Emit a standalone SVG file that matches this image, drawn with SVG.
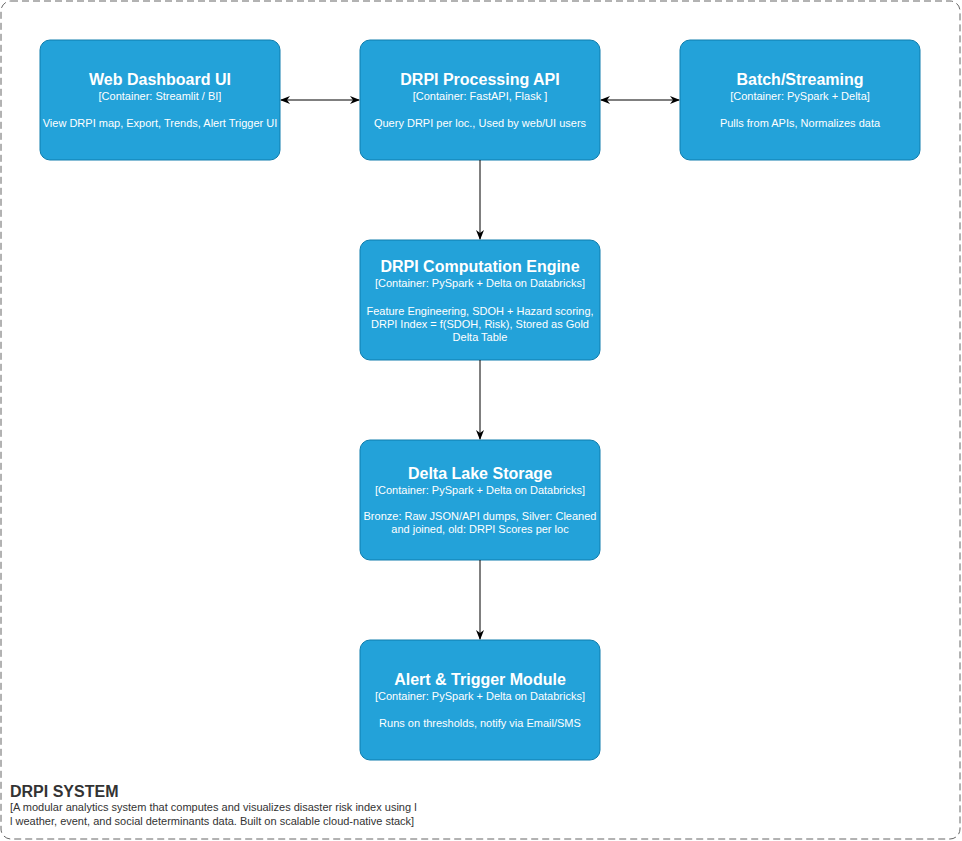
<svg xmlns="http://www.w3.org/2000/svg" width="962" height="841" viewBox="0 0 962 841">
<style>
.box{fill:#23A2D9;stroke:#0E7DAD;stroke-width:1}
.t{font-family:"Liberation Sans",Arial,sans-serif;fill:#fff;text-anchor:middle}
.h{font-size:16px;font-weight:bold}
.c{font-size:11px}
.d{font-size:11px}
.conn{stroke:#000;stroke-width:1;fill:none}
</style>
<defs>
<marker id="ah" viewBox="0 0 10 10" refX="9" refY="5" markerWidth="10" markerHeight="10" markerUnits="userSpaceOnUse" orient="auto-start-reverse">
<path d="M0,1 L10,5 L0,9 L3,5 Z" fill="#000"/>
</marker>
</defs>
<rect x="1" y="1" width="959" height="838" rx="10" fill="#fff" stroke="#666" stroke-dasharray="7 4"/>
<g id="web">
<rect class="box" x="40" y="40" width="240" height="120" rx="10"/>
<text class="t h" x="160" y="85">Web Dashboard UI</text>
<text class="t c" x="160" y="100">[Container: Streamlit / BI]</text>
<text class="t d" x="160" y="127">View DRPI map, Export, Trends, Alert Trigger UI</text>
</g>
<g id="api">
<rect class="box" x="360" y="40" width="240" height="120" rx="10"/>
<text class="t h" x="480" y="85">DRPI Processing API</text>
<text class="t c" x="480" y="100">[Container: FastAPI, Flask ]</text>
<text class="t d" x="480" y="127">Query DRPI per loc., Used by web/UI users</text>
</g>
<g id="batch">
<rect class="box" x="680" y="40" width="240" height="120" rx="10"/>
<text class="t h" x="800" y="85">Batch/Streaming</text>
<text class="t c" x="800" y="100">[Container: PySpark + Delta]</text>
<text class="t d" x="800" y="127">Pulls from APIs, Normalizes data</text>
</g>
<g id="engine">
<rect class="box" x="360" y="240" width="240" height="120" rx="10"/>
<text class="t h" x="480" y="272">DRPI Computation Engine</text>
<text class="t c" x="480" y="287">[Container: PySpark + Delta on Databricks]</text>
<text class="t d" x="480" y="315">Feature Engineering, SDOH + Hazard scoring,</text>
<text class="t d" x="480" y="328">DRPI Index = f(SDOH, Risk), Stored as Gold</text>
<text class="t d" x="480" y="341">Delta Table</text>
</g>
<g id="lake">
<rect class="box" x="360" y="440" width="240" height="120" rx="10"/>
<text class="t h" x="480" y="479">Delta Lake Storage</text>
<text class="t c" x="480" y="494">[Container: PySpark + Delta on Databricks]</text>
<text class="t d" x="480" y="520">Bronze: Raw JSON/API dumps, Silver: Cleaned</text>
<text class="t d" x="480" y="533">and joined, old: DRPI Scores per loc</text>
</g>
<g id="alert">
<rect class="box" x="360" y="640" width="240" height="120" rx="10"/>
<text class="t h" x="480" y="685">Alert &amp; Trigger Module</text>
<text class="t c" x="480" y="700">[Container: PySpark + Delta on Databricks]</text>
<text class="t d" x="480" y="727">Runs on thresholds, notify via Email/SMS</text>
</g>
<g id="connectors">
<line class="conn" x1="281" y1="100" x2="359" y2="100" marker-start="url(#ah)" marker-end="url(#ah)"/>
<line class="conn" x1="601" y1="100" x2="679" y2="100" marker-start="url(#ah)" marker-end="url(#ah)"/>
<line class="conn" x1="480" y1="160" x2="480" y2="239" marker-end="url(#ah)"/>
<line class="conn" x1="480" y1="360" x2="480" y2="439" marker-end="url(#ah)"/>
<line class="conn" x1="480" y1="560" x2="480" y2="639" marker-end="url(#ah)"/>
</g>
<g id="boundary-label" font-family="'Liberation Sans',Arial,sans-serif" fill="#333">
<text x="10" y="797" font-size="16" font-weight="bold">DRPI SYSTEM</text>
<text x="10" y="811" font-size="11">[A modular analytics system that computes and visualizes disaster risk index using l</text>
<text x="10" y="825" font-size="11">l weather, event, and social determinants data. Built on scalable cloud-native stack]</text>
</g>
</svg>
